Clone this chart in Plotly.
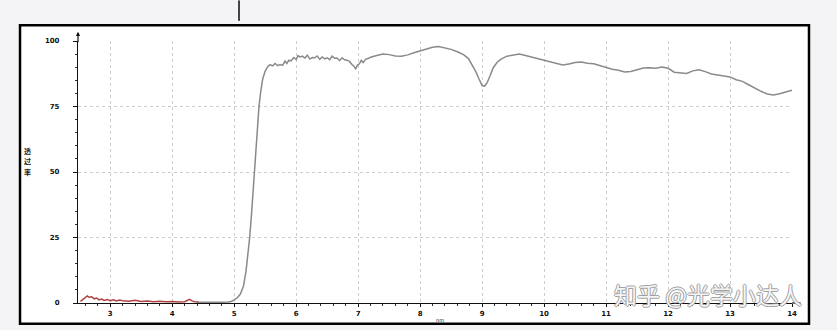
import plotly.graph_objects as go

# ---- data ----
red_x = [2.52, 2.56, 2.6, 2.63, 2.66, 2.7, 2.74, 2.78, 2.82, 2.86, 2.9, 2.95, 3.0, 3.05, 3.1, 3.15,
         3.2, 3.3, 3.4, 3.5, 3.6, 3.7, 3.8, 3.9, 4.0, 4.1, 4.2, 4.25, 4.28, 4.32, 4.36, 4.42]
red_y = [0.6, 1.4, 2.0, 2.7, 2.2, 2.4, 1.6, 1.9, 1.2, 1.5, 1.0, 1.3, 0.9, 1.2, 0.8, 1.1,
         0.9, 0.7, 1.0, 0.6, 0.8, 0.5, 0.7, 0.5, 0.6, 0.4, 0.5, 1.1, 1.4, 0.8, 0.5, 0.4]

gray_x = [4.4, 4.6, 4.8, 4.9, 4.95, 5.0, 5.05, 5.1, 5.15, 5.19, 5.22, 5.25, 5.28, 5.31, 5.34, 5.37,
          5.4, 5.43, 5.46, 5.5, 5.54, 5.58, 5.62, 5.66, 5.7, 5.74, 5.78, 5.82, 5.85, 5.88, 5.92, 5.96,
          6.0, 6.03, 6.06, 6.1, 6.14, 6.18, 6.22, 6.26, 6.3, 6.34, 6.38, 6.42, 6.46, 6.5, 6.54, 6.58,
          6.62, 6.66, 6.7, 6.74, 6.78, 6.82, 6.86, 6.9, 6.93, 6.96, 6.99, 7.02, 7.05, 7.08, 7.12, 7.16,
          7.2, 7.3, 7.4, 7.5, 7.6, 7.7, 7.8, 7.9, 8.0, 8.1, 8.2, 8.3, 8.4, 8.5, 8.6, 8.7, 8.78, 8.84,
          8.9, 8.95, 9.0, 9.04, 9.08, 9.13, 9.18, 9.24, 9.3, 9.4, 9.5, 9.6, 9.7, 9.8, 9.9, 10.0, 10.1,
          10.2, 10.3, 10.4, 10.5, 10.6, 10.7, 10.8, 10.9, 11.0, 11.1, 11.2, 11.3, 11.4, 11.5, 11.6,
          11.7, 11.8, 11.9, 12.0, 12.1, 12.2, 12.3, 12.4, 12.5, 12.6, 12.7, 12.8, 12.9, 13.0, 13.1,
          13.2, 13.3, 13.4, 13.5, 13.6, 13.7, 13.8, 13.9, 14.0, 14.04]
gray_y = [0.3, 0.2, 0.25, 0.4, 0.6, 1.2, 2.0, 3.4, 6.5, 12, 18, 25, 34, 45, 56, 66,
          75, 81, 85.5, 88.5, 90.2, 91.0, 90.5, 91.4, 90.6, 91.0, 90.7, 92.3, 91.4, 92.6, 92.5, 93.7,
          92.9, 94.4, 93.9, 94.2, 93.5, 94.6, 93.1, 93.7, 93.6, 94.3, 93.0, 93.9, 93.2, 93.6, 92.9, 94.2,
          93.4, 93.5, 92.5, 93.6, 92.8, 92.7, 92.2, 91.0, 90.4, 89.4, 90.8, 91.3, 92.6, 91.8, 93.0, 93.3,
          93.8, 94.5, 95.0, 94.8, 94.3, 94.2, 94.7, 95.5, 96.2, 97.0, 97.6, 97.9, 97.4, 96.8, 95.9, 94.8, 93.3, 91.0,
          88.2, 85.5, 83.0, 82.8, 84.0, 86.8, 89.8, 91.8, 93.0, 94.2, 94.7, 95.0, 94.5, 93.9, 93.3, 92.8, 92.2,
          91.4, 90.8, 91.2, 91.8, 92.0, 91.5, 91.3, 90.6, 90.0, 89.2, 88.8, 88.2, 88.4, 89.0, 89.7,
          89.8, 89.6, 90.1, 89.6, 88.1, 87.9, 87.6, 88.6, 89.0, 88.3, 87.4, 87.0, 86.7, 86.3, 85.2,
          84.6, 83.3, 82.0, 80.8, 79.8, 79.4, 79.9, 80.5, 81.2, 81.8]

x_ticks = [3, 4, 5, 6, 7, 8, 9, 10, 11, 12, 13, 14]
y_ticks = [0, 25, 50, 75, 100]

x_title = "nm"
y_title_chars = ["透", "过", "率"]
watermark = "知乎 @光学小达人"

fig = go.Figure()
fig.add_trace(go.Scatter(x=gray_x, y=gray_y, mode="lines",
                         line=dict(color="#8a8a8a", width=1.5), showlegend=False))
fig.add_trace(go.Scatter(x=red_x, y=red_y, mode="lines",
                         line=dict(color="#b04040", width=1.5), showlegend=False))

tickfont = dict(family="DejaVu Sans, sans-serif", size=7, color="#111111", weight=700)

annotations = [
    dict(x=0, y=1.035, xref="paper", yref="paper", ax=0, ay=12, axref="pixel", ayref="pixel",
         showarrow=True, arrowhead=2, arrowsize=0.7, arrowwidth=1.2, arrowcolor="#111", text=""),
    dict(x=0.507, y=-0.064, xref="paper", yref="paper", text=x_title, showarrow=False,
         font=dict(family="DejaVu Sans", size=5, color="#222"), xanchor="center", yanchor="middle"),
    dict(x=(612 - 78) / 714, y=(306 - 297) / 265, xref="paper", yref="paper", text=watermark,
         showarrow=False, xanchor="left", yanchor="middle",
         font=dict(family="Noto Sans CJK SC", size=23, color="rgba(255,255,255,0.92)",
                   shadow="1px 0 0 #9a9a9a, -1px 0 0 #9a9a9a, 0 1px 0 #9a9a9a, 0 -1px 0 #9a9a9a")),
]
for i, ch in enumerate(y_title_chars):
    annotations.append(dict(x=(27 - 78) / 714, y=(306 - (152 + 10.5 * i)) / 265, xref="paper", yref="paper",
                            text=ch, showarrow=False, xanchor="center", yanchor="middle", borderpad=0,
                            font=dict(family="Noto Sans CJK SC", size=7, color="#222", weight=700)))

fig.update_layout(
    width=837, height=330,
    margin=dict(l=78, r=45, t=41, b=24),
    paper_bgcolor="#f4f4f6",
    plot_bgcolor="rgba(0,0,0,0)",
    xaxis=dict(range=[2.48, 14.0], tickvals=x_ticks, showgrid=True, gridcolor="#cdcdcd",
               griddash="dot", gridwidth=1, showline=True, linecolor="#111", linewidth=1.2,
               ticks="outside", ticklen=3, tickcolor="#111", tickfont=tickfont,
               minor=dict(dtick=0.2, ticks="outside", ticklen=2, tickcolor="#333", showgrid=False),
               zeroline=False, fixedrange=True),
    yaxis=dict(range=[0, 100], tickvals=y_ticks, showgrid=True, gridcolor="#cdcdcd",
               griddash="dot", gridwidth=1, showline=True, linecolor="#111", linewidth=1.2,
               ticks="outside", ticklen=4, tickcolor="#111", tickfont=tickfont,
               ticklabelstandoff=12,
               minor=dict(dtick=5, ticks="outside", ticklen=2, tickcolor="#333", showgrid=False),
               zeroline=False, fixedrange=True),
    shapes=[
        dict(type="rect", xref="paper", yref="paper", x0=-0.0812, x1=1.0238, y0=-0.0792, y1=1.0604,
             fillcolor="white", line=dict(color="black", width=2.5), layer="below"),
        dict(type="line", xref="paper", yref="paper", x0=1.0, x1=1.012, y0=0, y1=0,
             line=dict(color="#111", width=1.2)),
        dict(type="line", xref="paper", yref="paper", x0=0.2255, x1=0.2255, y0=1.155, y1=1.077,
             line=dict(color="#444", width=2)),
    ],
    annotations=annotations,
)

fig.write_html("out.html")
